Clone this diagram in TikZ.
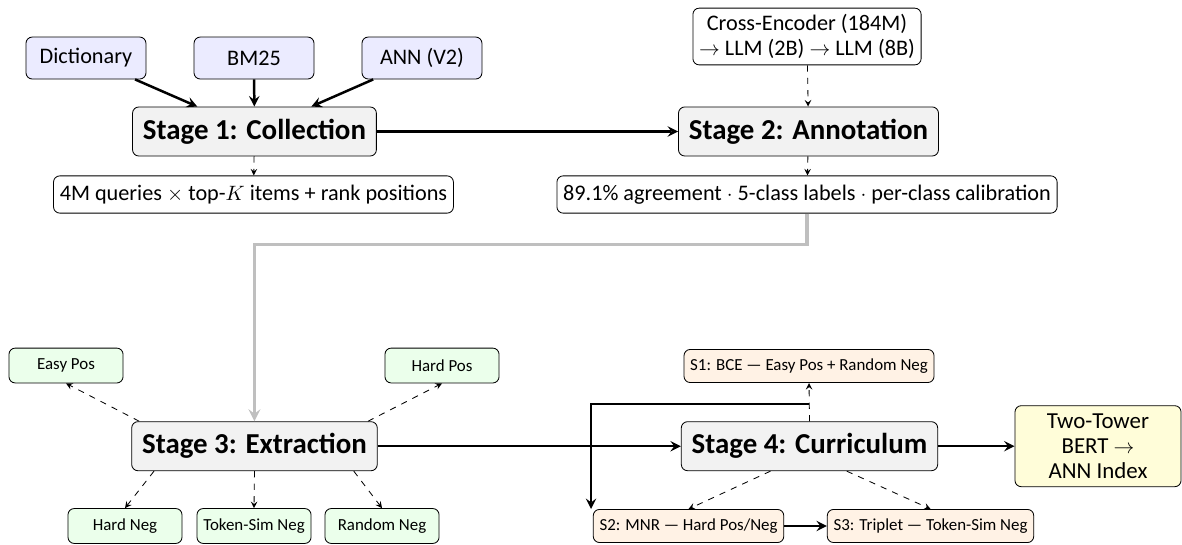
\documentclass[tikz,border=0pt]{standalone}
\usepackage{fontspec}
\setmainfont{Carlito}[Scale=1.07]
\usetikzlibrary{positioning}
\usetikzlibrary{arrows}
\usetikzlibrary{calc}

\tikzset{
  box/.style={draw, rounded corners=3pt, align=center, inner sep=3pt},
  srcbox/.style={box, fill=blue!8, minimum width=2.03cm, minimum height=0.71cm},
  stagebox/.style={box, fill=gray!10, font=\fontsize{13}{16}\selectfont\bfseries, minimum height=0.83cm, inner xsep=5pt},
  resbox/.style={box, fill=white, minimum height=0.63cm},
  negbox/.style={box, fill=green!8, font=\fontsize{7.6}{9}\selectfont, minimum width=1.93cm, minimum height=0.59cm},
  curbox/.style={box, fill=orange!10, font=\fontsize{7.6}{9}\selectfont, minimum height=0.56cm},
  outbox/.style={box, fill=yellow!15, font=\fontsize{10.3}{12}\selectfont, minimum width=2.81cm, minimum height=1.37cm},
  flow/.style={->, >=stealth, line width=1.2pt},
  aux/.style={->, >=stealth, dashed},
  feed/.style={->, >=stealth, line width=1.5pt, gray!50},
}

\begin{document}
\begin{tikzpicture}
  \useasboundingbox (0,0) rectangle (20,9.205);

  % the four stages
  \node[stagebox] (stage1) at (4.306,6.98) {Stage 1: Collection};
  \node[stagebox] (stage2) at (13.68,6.98) {Stage 2: Annotation};
  \node[stagebox] (stage3) at (4.306,1.655) {Stage 3: Extraction};
  \node[stagebox] (stage4) at (13.697,1.655) {Stage 4: Curriculum};

  % sources of stage 1
  \node[srcbox] (dict) at (1.455,8.223) {Dictionary};
  \node[srcbox] (bm25) at (4.298,8.223) {BM25};
  \node[srcbox] (ann) at (7.14,8.223) {ANN (V2)};

  % results
  \node[resbox] (res1) at (4.289,5.914) {4M queries $\times$ top-$K$ items + rank positions};
  \node[resbox] (cross) at (13.655,8.587) {Cross-Encoder (184M)\\$\rightarrow$ LLM (2B) $\rightarrow$ LLM (8B)};
  \node[resbox] (res2) at (13.655,5.914) {89.1\% agreement $\cdot$ 5-class labels $\cdot$ per-class calibration};

  % extracted sets
  \node[negbox] (easypos) at (1.117,3.02) {Easy Pos};
  \node[negbox] (hardpos) at (7.479,3.02) {Hard Pos};
  \node[negbox] (hardneg) at (2.115,0.305) {Hard Neg};
  \node[negbox] (toksim) at (4.298,0.305) {Token-Sim Neg};
  \node[negbox] (randneg) at (6.464,0.305) {Random Neg};

  % curriculum steps
  \node[curbox] (cur1) at (13.689,3.012) {S1: BCE --- Easy Pos + Random Neg};
  \node[curbox] (cur2) at (11.65,0.305) {S2: MNR --- Hard Pos/Neg};
  \node[curbox] (cur3) at (15.745,0.305) {S3: Triplet --- Token-Sim Neg};

  \node[outbox] (model) at (18.579,1.655) {Two-Tower\\BERT $\rightarrow$\\ANN Index};

  % edges
  \foreach \s in {dict,bm25,ann} {
    \draw[flow] (\s) -- (stage1);
  }
  \draw[flow] (stage1) -- (stage2);
  \draw[aux] (stage1) -- (res1);
  \draw[aux] (cross) -- (stage2);
  \draw[aux] (stage2) -- (res2);
  \draw[feed] (res2.south) -- ++(0,-0.52) -| (stage3.north);

  \draw[aux] ([xshift=-1.95cm]stage3.north) -- (easypos.south);
  \draw[aux] ([xshift=1.92cm]stage3.north) -- (hardpos.south);
  \draw[aux] ([xshift=-1.7cm]stage3.south) -- (hardneg.north);
  \draw[aux] (stage3.south) -- (toksim.north);
  \draw[aux] ([xshift=1.68cm]stage3.south) -- (randneg.north);

  \draw[flow] (stage3) -- (stage4);
  \draw[flow] (stage4) -- (model);
  \draw[aux] (stage4.north) -- (cur1.south);
  \draw[aux] ([xshift=-0.66cm]stage4.south) -- (cur2.north);
  \draw[aux] ([xshift=0.63cm]stage4.south) -- (cur3.north);
  \draw[flow] ([yshift=-0.36cm]cur1.south) -| ([xshift=-0.03cm]cur2.north west);
  \draw[flow] (cur2) -- (cur3);
\end{tikzpicture}
\end{document}
